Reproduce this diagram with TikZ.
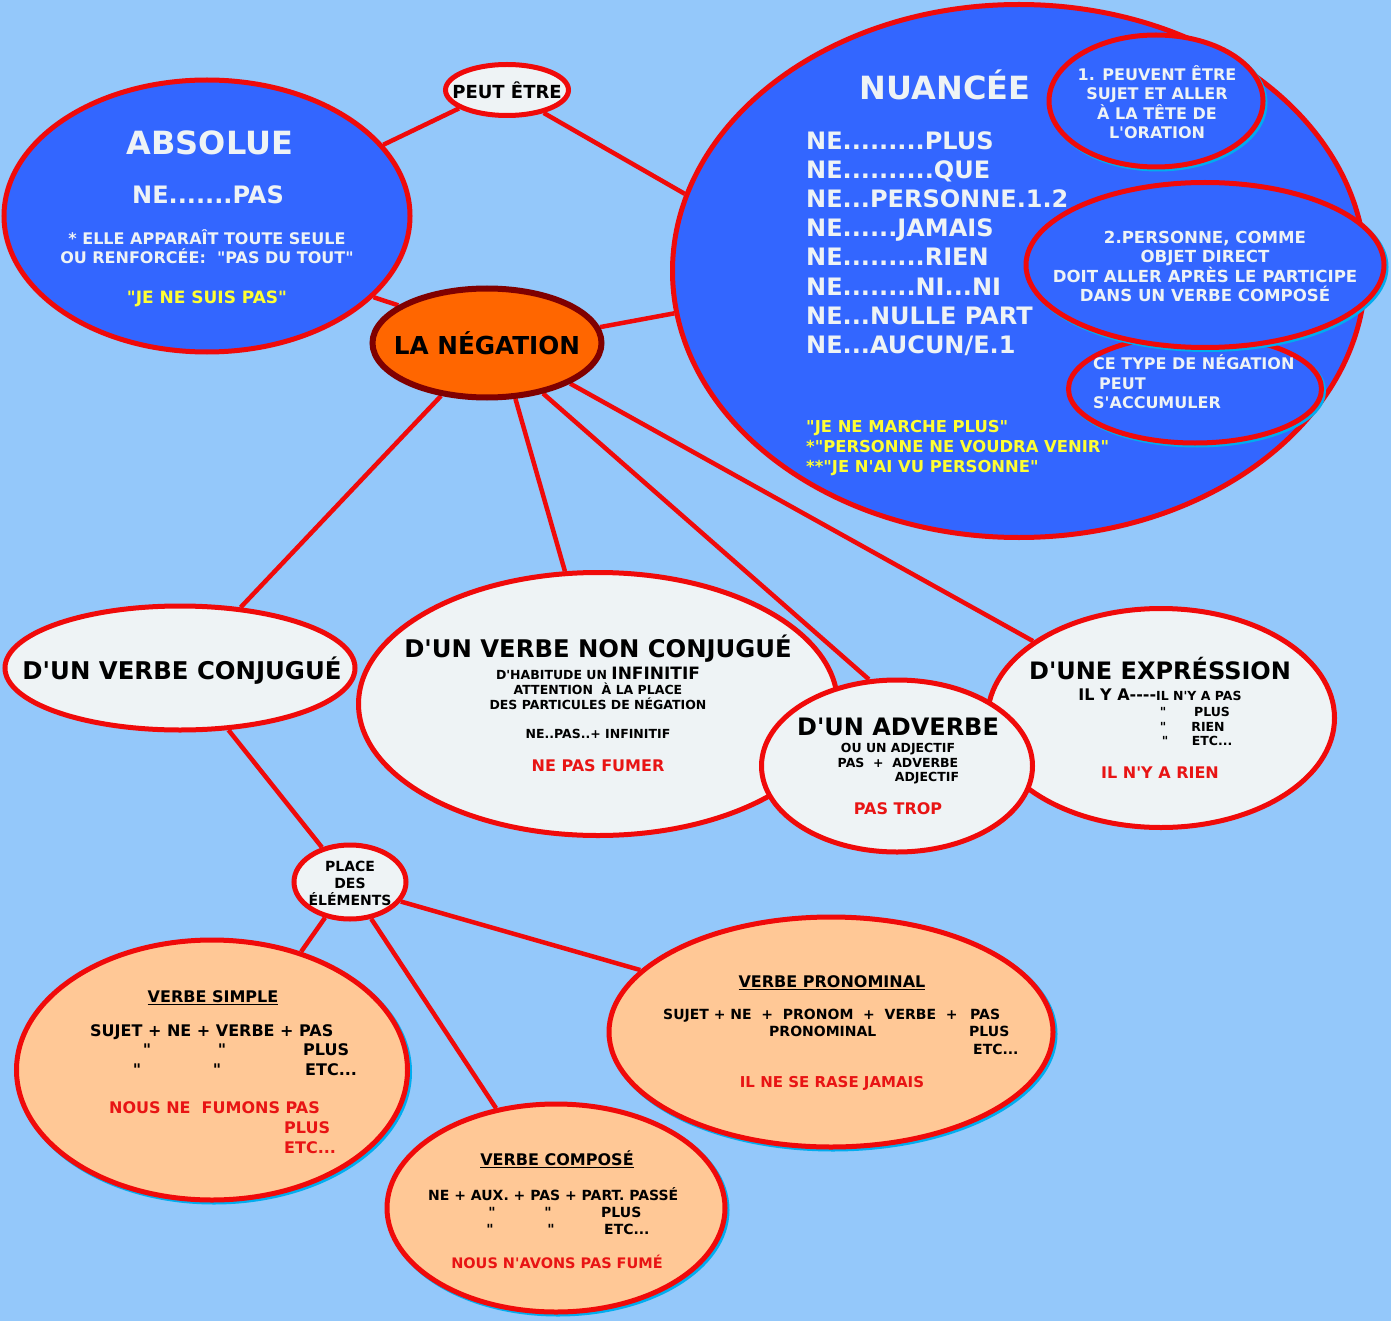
\documentclass[tikz,border=0pt]{standalone}
\usepackage{fontspec}
\newfontfamily\dvs{DejaVu Sans}
\usetikzlibrary{shapes.geometric,shadows}
\pgfdeclarelayer{back}
\pgfsetlayers{back,main}
\definecolor{skyback}{RGB}{148,200,250}
\definecolor{bubblue}{RGB}{51,102,255}
\definecolor{bubgrey}{RGB}{238,243,245}
\definecolor{bubpeach}{RGB}{255,200,150}
\definecolor{negorange}{RGB}{255,102,0}
\definecolor{negrim}{RGB}{128,0,0}
\definecolor{rimred}{RGB}{240,10,10}
\definecolor{quoteyellow}{RGB}{255,255,51}
\definecolor{examplered}{RGB}{232,20,20}
\newcommand\fsz[1]{\fontsize{#1}{#1}\selectfont}
\tikzset{
  bubble/.style={ellipse,draw=rimred,line width=5pt,inner sep=0pt},
  cyanshadow/.style={general shadow={draw=cyan,fill=cyan,line width=5pt,shadow xshift=2pt,shadow yshift=-2pt}},
  link/.style={draw=rimred,line width=4.5pt},
  lbl/.style={inner sep=0pt,anchor=base,font=\dvs\bfseries\fsz{#1}},
  lbll/.style={lbl=#1,anchor=base west},
}
\begin{document}
\begin{tikzpicture}[x=1pt,y=-1pt]
  \useasboundingbox (0,0) rectangle (1391,1321);
  \begin{pgfonlayer}{back}
    \fill[skyback] (0,0) rectangle (1391,1321);
  \end{pgfonlayer}
  % bubbles
  \node[bubble,fill=bubblue,minimum width=406,minimum height=272] (abs) at (207,216) {};
  \node[bubble,fill=bubgrey,minimum width=123,minimum height=51] (peut) at (507,90) {};
  \node[bubble,fill=bubblue,minimum width=693,minimum height=533] (nua) at (1019,271) {};
  \node[bubble,cyanshadow,fill=bubblue,minimum width=214,minimum height=132] (nuaA) at (1156,101) {};
  \node[bubble,cyanshadow,fill=bubblue,minimum width=253,minimum height=108] (nuaC) at (1195,389) {};
  \node[bubble,cyanshadow,fill=bubblue,minimum width=358,minimum height=165] (nuaB) at (1205,265) {};
  \node[bubble,draw=negrim,line width=6pt,fill=negorange,minimum width=229,minimum height=109] (neg) at (487,343) {};
  \node[bubble,fill=bubgrey,minimum width=350,minimum height=124] (conj) at (180,668) {};
  \node[bubble,fill=bubgrey,minimum width=479,minimum height=263] (nonc) at (598,704) {};
  \node[bubble,fill=bubgrey,minimum width=347,minimum height=219] (expr) at (1161,718) {};
  \node[bubble,fill=bubgrey,minimum width=271,minimum height=172] (adv) at (897,766) {};
  \node[bubble,fill=bubgrey,minimum width=112,minimum height=74] (place) at (350,882) {};
  \node[bubble,cyanshadow,fill=bubpeach,minimum width=391,minimum height=260] (simp) at (212,1070) {};
  \node[bubble,cyanshadow,fill=bubpeach,minimum width=338,minimum height=208] (comp) at (556,1208) {};
  \node[bubble,cyanshadow,fill=bubpeach,minimum width=444,minimum height=230] (pron) at (831,1032) {};
  % absolue
  \node[lbl=32,text=bubgrey] (absT) at (210,154.7) {ABSOLUE};
  \node[lbl=24,text=bubgrey] (absA) at (208,203.8) {NE.......PAS};
  \node[lbl=16,text=bubgrey] (absB) at (207,244.8) {* ELLE APPARAÎT TOUTE SEULE};
  \node[lbl=16,text=bubgrey] (absC) at (207,263.8) {OU RENFORCÉE:\ \ "PAS DU TOUT"};
  \node[lbl=17,text=quoteyellow] (absD) at (207,303.2) {"JE NE SUIS PAS"};
  \node[lbl=18] (peutT) at (507,98.6) {PEUT ÊTRE};
  \node[lbl=24.7] (negT) at (487,354) {LA NÉGATION};
  % nuancee
  \node[lbl=32,text=bubgrey] (nuaT) at (945,99.7) {NUANCÉE};
  \node[lbll=24,text=bubgrey] (nuaL1) at (806,149.8) {NE.........PLUS};
  \node[lbll=24,text=bubgrey] (nuaL2) at (806,178.8) {NE..........QUE};
  \node[lbll=24,text=bubgrey] (nuaL3) at (806,207.8) {NE...PERSONNE.1.2};
  \node[lbll=24,text=bubgrey] (nuaL4) at (806,236.8) {NE......JAMAIS};
  \node[lbll=24,text=bubgrey] (nuaL5) at (806,265.8) {NE.........RIEN};
  \node[lbll=24,text=bubgrey] (nuaL6) at (806,295.8) {NE........NI...NI};
  \node[lbll=24,text=bubgrey] (nuaL7) at (806,324.8) {NE...NULLE PART};
  \node[lbll=24,text=bubgrey] (nuaL8) at (806,353.8) {NE...AUCUN/E.1};
  \node[lbll=16.4,text=quoteyellow] (nuaY1) at (806,432) {"JE NE MARCHE PLUS"};
  \node[lbll=16.4,text=quoteyellow] (nuaY2) at (806,452) {*"PERSONNE NE VOUDRA VENIR"};
  \node[lbll=16.4,text=quoteyellow] (nuaY3) at (806,472) {**"JE N'AI VU PERSONNE"};
  \node[lbl=16,text=bubgrey] (nuaA1) at (1157,80.8) {1. PEUVENT ÊTRE};
  \node[lbl=16,text=bubgrey] (nuaA2) at (1157,99.8) {SUJET ET ALLER};
  \node[lbl=16,text=bubgrey] (nuaA3) at (1157,119.8) {À LA TÊTE DE};
  \node[lbl=16,text=bubgrey] (nuaA4) at (1157,138.8) {L'ORATION};
  \node[lbl=16.6,text=bubgrey] (nuaB1) at (1205,243.1) {2.PERSONNE, COMME};
  \node[lbl=16.6,text=bubgrey] (nuaB2) at (1205,262.1) {OBJET DIRECT};
  \node[lbl=16.6,text=bubgrey] (nuaB3) at (1205,282.1) {DOIT ALLER APRÈS LE PARTICIPE};
  \node[lbl=16.6,text=bubgrey] (nuaB4) at (1205,301.1) {DANS UN VERBE COMPOSÉ};
  \node[lbll=16,text=bubgrey] (nuaC1) at (1093,369.8) {CE TYPE DE NÉGATION};
  \node[lbll=16,text=bubgrey] (nuaC2) at (1099,389.8) {PEUT};
  \node[lbll=16,text=bubgrey] (nuaC3) at (1093,408.8) {S'ACCUMULER};
  % verbe conjugue / non conjugue
  \node[lbl=24.4] (conjT) at (182,679.9) {D'UN VERBE CONJUGUÉ};
  \node[lbl=24.3] (noncT) at (598,657.9) {D'UN VERBE NON CONJUGUÉ};
  \node[lbl=12.5] (noncA) at (598,679.6) {D'HABITUDE UN {\fsz{17}INFINITIF}};
  \node[lbl=12.5] (noncB) at (598,694.6) {ATTENTION\ \ À LA PLACE};
  \node[lbl=12.5] (noncC) at (598,709.6) {DES PARTICULES DE NÉGATION};
  \node[lbl=12.5] (noncD) at (598,738.6) {NE..PAS..+ INFINITIF};
  \node[lbl=16,text=examplered] (noncE) at (598,771.8) {NE PAS FUMER};
  % adverbe
  \node[lbl=24] (advT) at (898,735.8) {D'UN ADVERBE};
  \node[lbl=12.5] (advA) at (898,752.6) {OU UN ADJECTIF};
  \node[lbl=12.5] (advB) at (898,767.6) {PAS\ \ +\ \ ADVERBE};
  \node[lbl=12.5] (advC) at (927,781.6) {ADJECTIF};
  \node[lbl=16,text=examplered] (advD) at (898,814.8) {PAS TROP};
  % expression
  \node[lbl=24] (exprT) at (1160,679.8) {D'UNE EXPRÉSSION};
  \node[lbl=12.5] (exprA) at (1160,700.6) {{\fsz{16}IL Y A----}IL N'Y A PAS};
  \node[lbl=12.5] (exprQ1) at (1163,716.6) {"};
  \node[lbl=12.5] (exprB) at (1212,716.6) {PLUS};
  \node[lbl=12.5] (exprQ2) at (1163,731.6) {"};
  \node[lbl=12.5] (exprC) at (1208,731.6) {RIEN};
  \node[lbl=12.5] (exprQ3) at (1165,745.6) {"};
  \node[lbl=12.5] (exprD) at (1212,745.6) {ETC...};
  \node[lbl=16,text=examplered] (exprE) at (1160,778.8) {IL N'Y A RIEN};
  % place des elements
  \node[lbl=14] (placeA) at (350,871.1) {PLACE};
  \node[lbl=14] (placeB) at (350,888.1) {DES};
  \node[lbl=14] (placeC) at (350,905.1) {ÉLÉMENTS};
  % verbe simple
  \node[lbl=16] (simpT) at (213,1002.8) {\underline{VERBE SIMPLE}};
  \node[lbll=16] (simpA) at (90,1036.8) {SUJET + NE + VERBE + PAS};
  \node[lbl=16] (simpQ1) at (147,1055.8) {"};
  \node[lbl=16] (simpQ2) at (222,1055.8) {"};
  \node[lbll=16] (simpB) at (303,1055.8) {PLUS};
  \node[lbl=16] (simpQ3) at (137,1075.8) {"};
  \node[lbl=16] (simpQ4) at (217,1075.8) {"};
  \node[lbll=16] (simpC) at (305,1075.8) {ETC...};
  \node[lbll=16,text=examplered] (simpD) at (109,1113.8) {NOUS NE\ \ FUMONS PAS};
  \node[lbll=16,text=examplered] (simpE) at (284,1133.8) {PLUS};
  \node[lbll=16,text=examplered] (simpF) at (284,1153.8) {ETC...};
  % verbe pronominal
  \node[lbl=16] (pronT) at (832,987.8) {\underline{VERBE PRONOMINAL}};
  \node[lbll=14] (pronA) at (663,1019.1) {SUJET + NE\ \ +\ \ PRONOM\ \ +\ \ VERBE\ \ +};
  \node[lbll=14] (pronB) at (970,1019.1) {PAS};
  \node[lbll=14] (pronC) at (769,1036.1) {PRONOMINAL};
  \node[lbll=14] (pronD) at (969,1036.1) {PLUS};
  \node[lbll=14] (pronE) at (973,1054.1) {ETC...};
  \node[lbl=15,text=examplered] (pronF) at (832,1087.5) {IL NE SE RASE JAMAIS};
  % verbe compose
  \node[lbl=16] (compT) at (557,1165.8) {\underline{VERBE COMPOSÉ}};
  \node[lbll=14] (compA) at (428,1200.1) {NE + AUX. + PAS + PART. PASSÉ};
  \node[lbl=14] (compQ1) at (492,1217.1) {"};
  \node[lbl=14] (compQ2) at (548,1217.1) {"};
  \node[lbll=14] (compB) at (601,1217.1) {PLUS};
  \node[lbl=14] (compQ3) at (490,1234.1) {"};
  \node[lbl=14] (compQ4) at (551,1234.1) {"};
  \node[lbll=14] (compC) at (604,1234.1) {ETC...};
  \node[lbl=14.5,text=examplered] (compD) at (557,1268.3) {NOUS N'AVONS PAS FUMÉ};
  % connectors
  \begin{pgfonlayer}{back}
    \draw[link] (abs.22.6) -- (peut.201.8);
    \draw[link] (peut.328) -- (nua.167.2);
    \draw[link] (abs.334.7) -- (neg.157.6);
    \draw[link] (neg.8.1) -- (nua.187.8);
    \draw[link] (neg.229) -- (conj.45.5);
    \draw[link] (neg.297.8) -- (nonc.104.9);
    \draw[link] (neg.318.1) -- (adv.108.6);
    \draw[link] (neg.334.3) -- (expr.149.6);
    \draw[link] (conj.308.7) -- (place.129.5);
    \draw[link] (place.235.6) -- (simp.53.3);
    \draw[link] (place.300.1) -- (comp.121.9);
    \draw[link] (place.339.3) -- (pron.162);
  \end{pgfonlayer}
\end{tikzpicture}
\end{document}
